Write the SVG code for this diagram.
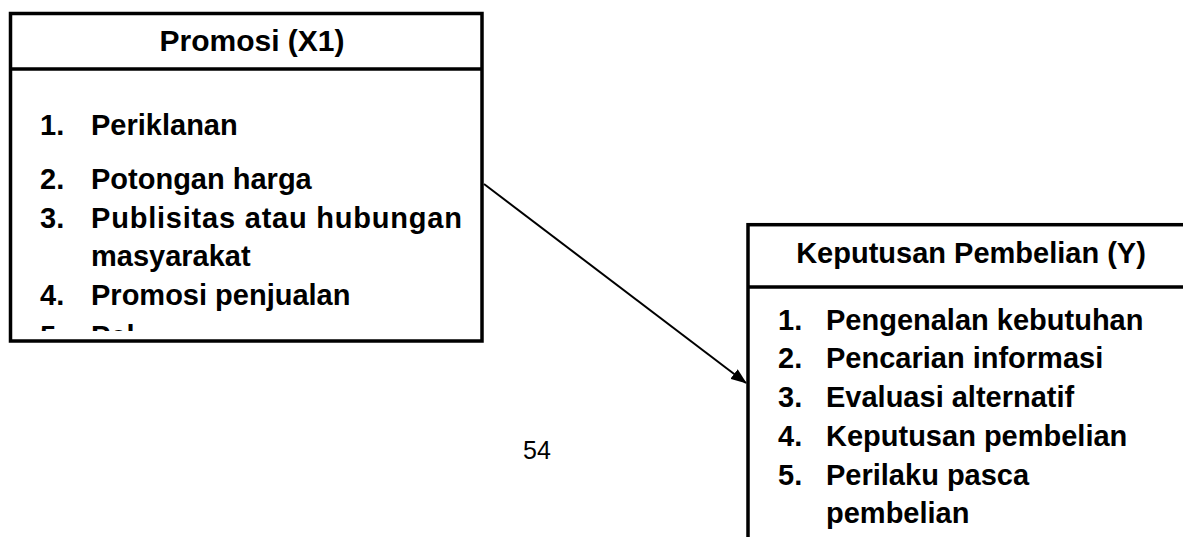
<svg xmlns="http://www.w3.org/2000/svg" width="1183" height="537" viewBox="0 0 1183 537">
<style>
.box{fill:#fff;stroke:#000;stroke-width:3.5}
.div{stroke:#000;stroke-width:3.5}
.t{font-family:"Liberation Sans",Arial,sans-serif;font-weight:bold;font-size:29px;fill:#000}
.h{text-anchor:middle}
.pg{font-family:"Liberation Sans",Arial,sans-serif;font-size:25px;fill:#000}
.conn{stroke:#000;stroke-width:2;fill:none}
</style>
<defs>
<marker id="ah" markerWidth="16" markerHeight="12" refX="15" refY="6" orient="auto" markerUnits="userSpaceOnUse" viewBox="0 0 16 12">
<path d="M0,0 L16,6 L0,12 Z" fill="#000"/>
</marker>
<clipPath id="clipL"><rect x="12" y="71" width="468" height="260"/></clipPath>
</defs>
<g id="node-promosi">
<rect class="box" x="10.5" y="13.5" width="471.5" height="327.5"/>
<line class="div" x1="10.5" y1="69" x2="482" y2="69"/>
<text class="t h" x="252" y="51" style="font-size:30px">Promosi (X1)</text>
<g clip-path="url(#clipL)">
<text class="t" x="40" y="135">1.</text><text class="t" x="91" y="135">Periklanan</text>
<text class="t" x="40" y="189">2.</text><text class="t" x="91" y="189">Potongan harga</text>
<text class="t" x="40" y="228">3.</text><text class="t" x="91" y="228" textLength="371" lengthAdjust="spacing">Publisitas atau hubungan</text>
<text class="t" x="91" y="266">masyarakat</text>
<text class="t" x="40" y="305">4.</text><text class="t" x="91" y="305">Promosi penjualan</text>
<text class="t" x="40" y="346">5.</text><text class="t" x="91" y="346">Pel</text>
</g>
</g>
<g id="node-keputusan">
<rect class="box" x="748" y="224.7" width="460" height="340"/>
<line class="div" x1="748" y1="287" x2="1190" y2="287"/>
<text class="t h" x="971" y="263">Keputusan Pembelian (Y)</text>
<text class="t" x="778" y="330">1.</text><text class="t" x="826" y="330">Pengenalan kebutuhan</text>
<text class="t" x="778" y="368">2.</text><text class="t" x="826" y="368">Pencarian informasi</text>
<text class="t" x="778" y="407">3.</text><text class="t" x="826" y="407">Evaluasi alternatif</text>
<text class="t" x="778" y="446">4.</text><text class="t" x="826" y="446">Keputusan pembelian</text>
<text class="t" x="778" y="485">5.</text><text class="t" x="826" y="485">Perilaku pasca</text>
<text class="t" x="826" y="523">pembelian</text>
</g>
<g id="connectors">
<line class="conn" x1="484" y1="184" x2="746" y2="383" marker-end="url(#ah)"/>
</g>
<text class="pg" x="537" y="459" text-anchor="middle">54</text>
</svg>
